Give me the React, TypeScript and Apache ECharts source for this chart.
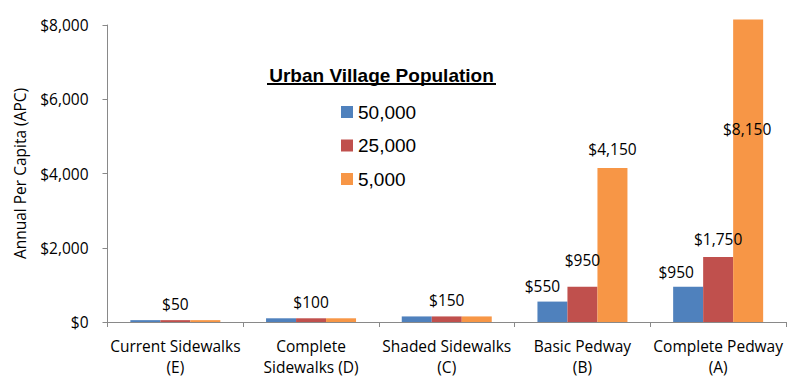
import { useEffect, useRef } from "react";
import * as echarts from "echarts";

const categories = [
  "Current Sidewalks\n(E)",
  "Complete\nSidewalks (D)",
  "Shaded Sidewalks\n(C)",
  "Basic Pedway\n(B)",
  "Complete Pedway\n(A)",
];
const seriesNames = ["50,000", "25,000", "5,000"];
const pop50000 = [50, 100, 150, 550, 950];
const pop25000 = [50, 100, 150, 950, 1750];
const pop5000 = [50, 100, 150, 4150, 8150];
const yTickStep = 2000;
const yMax = 8000;
const legendTitle = "Urban Village Population";
const yAxisTitle = "Annual Per Capita (APC)";

const colors = ["#4F81BD", "#C0504D", "#F79646"];

// which points show a value label, and a small [dx, dy] nudge for each
const labelNudges: ([number, number] | null)[][] = [
  [null, null, null, [-10, 0], [-12, 1.5]],
  [[0, 0], [0, 0], [0, 0], [0, -11], [0, -2.5]],
  [null, null, null, [0, -2.5], [-1, 126]],
];

const money = (v: number) => "$" + v.toLocaleString("en-US");

export default function App() {
  const ref = useRef<HTMLDivElement>(null);

  useEffect(() => {
    document.body.style.margin = "0";
    if (!ref.current) return;
    const chart = echarts.init(ref.current, undefined, { renderer: "svg" });
    const allValues = [pop50000, pop25000, pop5000];
    const font = "'Open Sans', 'Noto Sans', sans-serif";
    const fs = 15.5;

    const series = allValues.map((vals, si) => ({
      name: seriesNames[si],
      type: "bar",
      barWidth: 30,
      barGap: "0%",
      clip: false,
      itemStyle: { color: colors[si] },
      data: vals.map((v, ci) => {
        const nudge = labelNudges[si][ci];
        return {
          value: v,
          label: nudge
            ? {
                show: true,
                position: "top",
                distance: 8,
                offset: nudge,
                formatter: (p: any) => money(p.value),
                color: "#000",
                fontFamily: font,
                fontSize: fs,
              }
            : { show: false },
        };
      }),
    }));

    chart.setOption({
      animation: false,
      backgroundColor: "#fff",
      textStyle: { fontFamily: font },
      grid: { left: 107.5, right: 14, top: 25, bottom: 64, containLabel: false },
      xAxis: {
        type: "category",
        data: categories,
        axisLine: { lineStyle: { color: "#898989", width: 1 } },
        axisTick: { show: true, length: 5, lineStyle: { color: "#898989" } },
        axisLabel: {
          color: "#000",
          fontSize: fs,
          fontFamily: font,
          lineHeight: 21,
          margin: 13,
          interval: 0,
        },
      },
      yAxis: {
        type: "value",
        min: 0,
        max: yMax,
        interval: yTickStep,
        name: yAxisTitle,
        nameLocation: "middle",
        nameGap: 80,
        nameTextStyle: { color: "#000", fontSize: fs, fontFamily: font },
        axisLine: { show: true, lineStyle: { color: "#898989", width: 1 } },
        axisTick: { show: true, length: 5, lineStyle: { color: "#898989" } },
        splitLine: { show: false },
        axisLabel: {
          color: "#000",
          fontSize: fs,
          fontFamily: font,
          margin: 19,
          formatter: (v: number) => money(v),
        },
      },
      legend: {
        orient: "vertical",
        left: 341,
        top: 102,
        padding: 0,
        icon: "rect",
        itemWidth: 12,
        itemHeight: 12,
        itemGap: 13.5,
        data: seriesNames,
        textStyle: {
          color: "#000",
          fontSize: 19,
          lineHeight: 20,
          fontFamily: "'Liberation Sans', Arial, sans-serif",
        },
      },
      graphic: [
        {
          type: "text",
          x: 381.5,
          y: 75,
          style: {
            text: legendTitle,
            fill: "#000",
            font: "bold 19px 'Liberation Sans', Arial, sans-serif",
            textAlign: "center",
            textVerticalAlign: "middle",
          },
        },
        {
          type: "line",
          shape: { x1: 267, y1: 84, x2: 496, y2: 84 },
          style: { stroke: "#000", lineWidth: 1.8 },
        },
      ],
      series,
    });

    return () => chart.dispose();
  }, []);

  return <div ref={ref} style={{ width: 800, height: 386 }} />;
}
